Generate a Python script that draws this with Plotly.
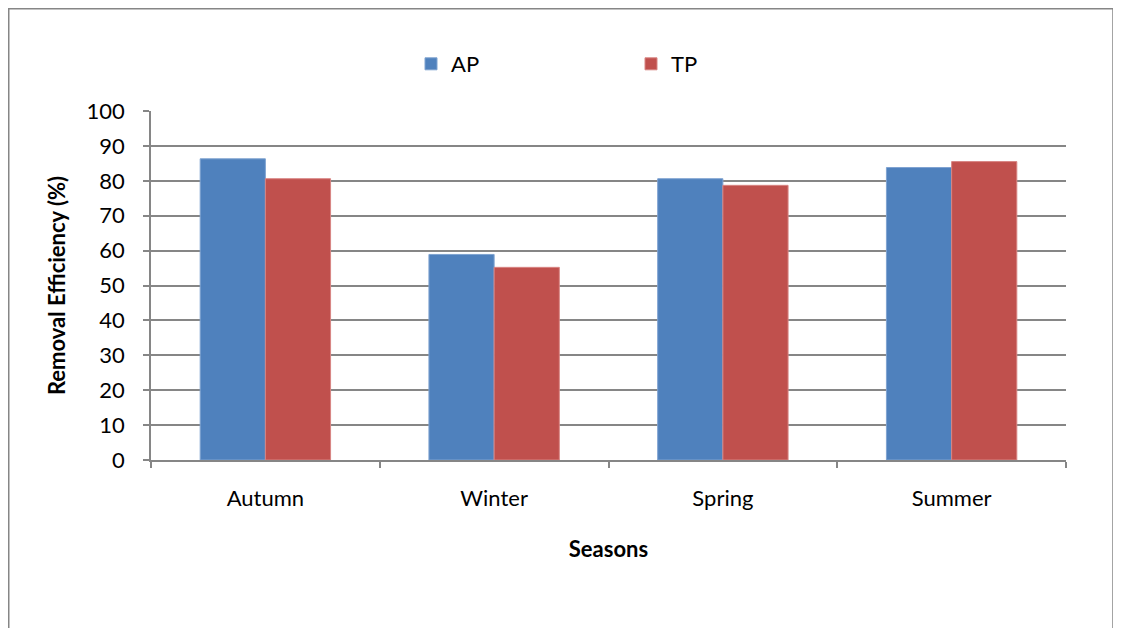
import plotly.graph_objects as go

seasons = ["Autumn", "Winter", "Spring", "Summer"]
ap_values = [86.3, 58.9, 80.6, 83.8]
tp_values = [80.6, 55.2, 78.7, 85.5]
y_ticks = [0, 10, 20, 30, 40, 50, 60, 70, 80, 90, 100]

FONT = "Lato"
W, H = 1121, 628
L, T = 143, 103
pw, ph = 915, 349
R = W - L - pw
B = H - T - ph

fig = go.Figure()
fig.add_trace(go.Bar(x=seasons, y=ap_values, name="AP",
                     marker=dict(color="#4F81BD", line=dict(color="#7FA3D1", width=1))))
fig.add_trace(go.Bar(x=seasons, y=tp_values, name="TP",
                     marker=dict(color="#C0504D", line=dict(color="#D88583", width=1))))

def px_x(x):
    return (x - L) / pw

def px_y(y):
    return (H - B - y) / ph

fig.update_layout(
    width=W, height=H,
    margin=dict(l=L, r=R, t=T, b=B, autoexpand=False),
    paper_bgcolor="white", plot_bgcolor="white",
    barmode="group", bargap=0.43, bargroupgap=0,
    font=dict(family=FONT, color="black", size=22),
    showlegend=True,
    legend=dict(orientation="h", x=px_x(403), xanchor="left", y=px_y(56), yanchor="middle",
                entrywidth=175, entrywidthmode="pixels", font=dict(size=22, family=FONT),
                itemwidth=30, bgcolor="rgba(0,0,0,0)"),
    xaxis=dict(
        showline=True, linecolor="#868686", linewidth=1.5,
        ticks="outside", tickson="boundaries", ticklen=6, tickcolor="#868686", tickwidth=1.5,
        tickfont=dict(size=22, family=FONT), ticklabelstandoff=18,
        title=dict(text="<b>Seasons</b>", font=dict(size=22, family=FONT), standoff=31),
        showgrid=False,
    ),
    yaxis=dict(
        range=[0, 100], tickvals=y_ticks,
        showline=True, linecolor="#868686", linewidth=1.5,
        ticks="outside", ticklen=6, tickcolor="#868686", tickwidth=1.5,
        showgrid=True, gridcolor="#868686", gridwidth=1.5,
        tickfont=dict(size=22, family=FONT), ticklabelstandoff=14,
        title=dict(text="<b>Removal Efficiency (%)</b>", font=dict(size=22, family=FONT), standoff=15),
        zeroline=False,
    ),
    shapes=[
        dict(type="rect", xref="paper", yref="paper",
             x0=px_x(0.75), x1=px_x(1105), y0=px_y(650), y1=px_y(0.75),
             line=dict(color="#868686", width=1.5), fillcolor="rgba(0,0,0,0)", layer="below"),
    ],
)

fig.write_html("out.html")
